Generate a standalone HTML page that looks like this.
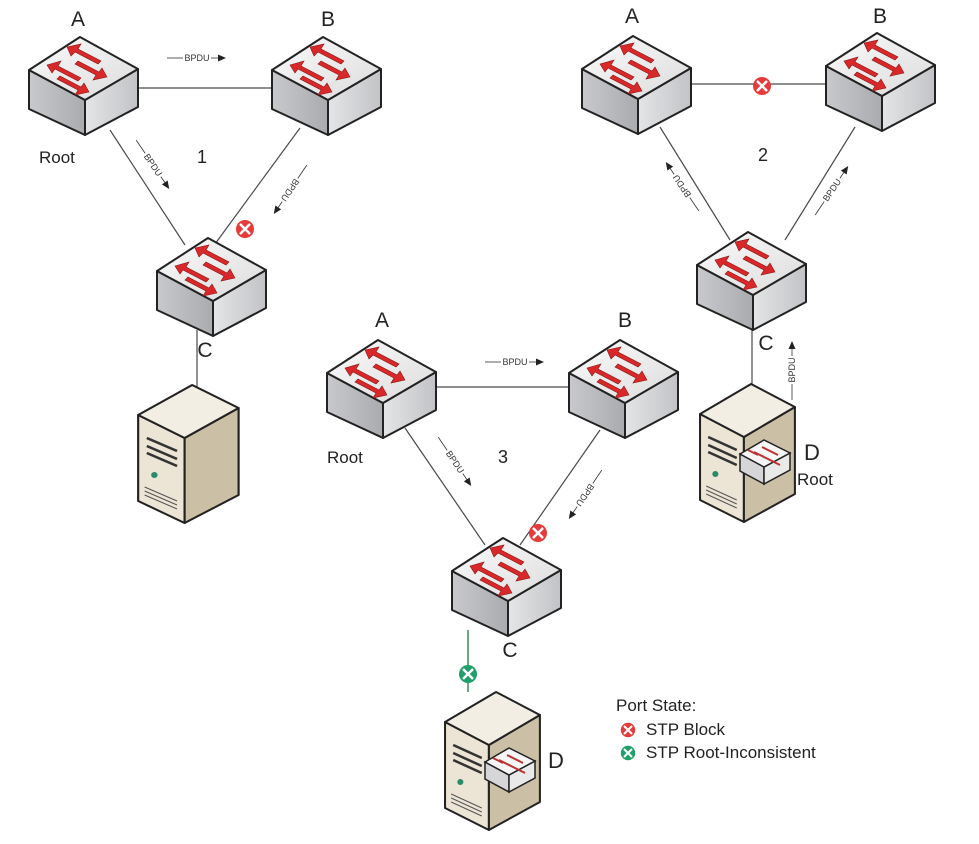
<!DOCTYPE html>
<html><head><meta charset="utf-8"><style>
html,body{margin:0;padding:0;background:#fff;}
svg{display:block;font-family:"Liberation Sans",Arial,sans-serif;}
</style></head><body>
<svg width="979" height="844" viewBox="0 0 979 844" xmlns="http://www.w3.org/2000/svg">
<defs>
<linearGradient id="lf" x1="0" y1="0" x2="1" y2="0"><stop offset="0" stop-color="#c8c9cc"/><stop offset="1" stop-color="#a9abaf"/></linearGradient>
<linearGradient id="rf" x1="0" y1="0" x2="1" y2="0"><stop offset="0" stop-color="#e4e5e7"/><stop offset="1" stop-color="#c2c3c6"/></linearGradient>
<linearGradient id="tf" x1="0" y1="0" x2="1" y2="1"><stop offset="0" stop-color="#fafafa"/><stop offset="1" stop-color="#dcdcdc"/></linearGradient>
<g id="sw">
<polygon points="0,33 56,63 56,98 0,72" fill="url(#lf)" stroke="#222" stroke-width="2" stroke-linejoin="round"/>
<polygon points="56,63 109,32 109,70 56,98" fill="url(#rf)" stroke="#222" stroke-width="2" stroke-linejoin="round"/>
<polygon points="0,33 51,0 109,32 56,63" fill="url(#tf)" stroke="#222" stroke-width="2" stroke-linejoin="round"/>
<g fill="#d8282a" stroke="#8a1414" stroke-width="0.6">
<polygon points="38,10 52,7 49,12 72,24 69,27 46,15 42,19"/>
<polygon points="18,28 32,24 29,29 52,41 49,44 26,32 23,36"/>
<polygon points="78,40 64,43 67,38 46,27 49,24 70,35 73,31"/>
<polygon points="60,55 46,58 49,53 28,42 31,39 52,50 55,46"/>
</g>
</g>
<g id="srv">
<polygon points="2,32 45,55 45,140 2,118" fill="#ece5d6" stroke="#222" stroke-width="2" stroke-linejoin="round"/>
<polygon points="45,55 95,25 95,112 45,140" fill="#cbbfa6" stroke="#222" stroke-width="2" stroke-linejoin="round"/>
<polygon points="2,32 52,2 95,25 45,55" fill="#f3eee4" stroke="#222" stroke-width="2" stroke-linejoin="round"/>
<path d="M10,55 L38,68 M10,63 L38,76 M10,70 L38,83" stroke="#333" stroke-width="2.5"/>
<circle cx="17" cy="92" r="3" fill="#2a8a6a"/>
<path d="M8,104 L38,118 M8,108 L38,122 M8,112 L38,126" stroke="#555" stroke-width="1"/>
</g>
<g id="minisw">
<polygon points="0,14 24,27 24,44 0,31" fill="#d6d6d8" stroke="#222" stroke-width="1.5"/>
<polygon points="24,27 50,13 50,30 24,44" fill="#e9e9ea" stroke="#222" stroke-width="1.5"/>
<polygon points="0,14 24,0 50,13 24,27" fill="#f6f6f6" stroke="#222" stroke-width="1.5"/>
<path d="M14,12 L30,20 M22,7 L38,15 M18,15 L8,10 M28,19 L40,25" stroke="#b33" stroke-width="2"/>
</g>
<g id="blk">
<circle r="9" fill="#e53b3b"/>
<path d="M-5,-5 L5,5 M5,-5 L-5,5" stroke="#fff" stroke-width="2.5"/>
</g>
<g id="grn">
<circle r="9" fill="#1ea06a"/>
<path d="M-5,-5 L5,5 M5,-5 L-5,5" stroke="#fff" stroke-width="2.5"/>
</g>
<g id="bp">
<line x1="-30" y1="0" x2="-14" y2="0" stroke="#333" stroke-width="0.8"/>
<text x="0" y="3" font-size="9" text-anchor="middle" fill="#333">BPDU</text>
<line x1="14" y1="0" x2="21" y2="0" stroke="#333" stroke-width="0.8"/>
<polygon points="21,-3.5 29,0 21,3.5" fill="#222"/>
</g>
</defs>

<g stroke="#4a4a4a" stroke-width="1.2" fill="none">
<line x1="138" y1="88" x2="272" y2="88"/>
<line x1="110" y1="130" x2="185" y2="245"/>
<line x1="300" y1="128" x2="215" y2="244"/>
<line x1="197" y1="330" x2="197" y2="388"/>
<line x1="692" y1="84" x2="826" y2="84"/>
<line x1="660" y1="127" x2="730" y2="240"/>
<line x1="855" y1="127" x2="785" y2="240"/>
<line x1="752" y1="325" x2="752" y2="386"/>
<line x1="436" y1="387" x2="569" y2="387"/>
<line x1="405" y1="428" x2="485" y2="545"/>
<line x1="600" y1="430" x2="520" y2="545"/>
</g>
<line x1="468" y1="630" x2="468" y2="692" stroke="#3a8a5a" stroke-width="1.5"/>

<use href="#sw" x="29" y="37"/>
<use href="#sw" x="272" y="37"/>
<use href="#sw" x="157" y="238"/>
<use href="#sw" x="582" y="36"/>
<use href="#sw" x="826" y="33"/>
<use href="#sw" x="697" y="232"/>
<use href="#sw" x="327" y="340"/>
<use href="#sw" x="569" y="340"/>
<use href="#sw" x="452" y="538"/>

<use href="#srv" transform="translate(136,383) scale(1.08,1.0)"/>
<use href="#srv" transform="translate(698,382) scale(1.02,1.0)"/>
<use href="#minisw" x="740" y="440"/>
<use href="#srv" transform="translate(443,690) scale(1.02,1.0)"/>
<use href="#minisw" x="485" y="748"/>

<use href="#blk" x="245" y="229"/>
<use href="#blk" x="762" y="86"/>
<use href="#blk" x="538" y="533"/>
<use href="#grn" x="468" y="674"/>

<use href="#bp" transform="translate(197,58)"/>
<use href="#bp" transform="translate(153,165) rotate(56)"/>
<use href="#bp" transform="translate(290,190) rotate(124)"/>
<use href="#bp" transform="translate(682,186) rotate(236)"/>
<use href="#bp" transform="translate(832,190) rotate(-56)"/>
<use href="#bp" transform="translate(792,370) rotate(-90)"/>
<use href="#bp" transform="translate(515,362)"/>
<use href="#bp" transform="translate(455,462) rotate(56)"/>
<use href="#bp" transform="translate(585,495) rotate(124)"/>

<g font-size="21" fill="#222">
<text x="78" y="26" text-anchor="middle">A</text>
<text x="328" y="26" text-anchor="middle">B</text>
<text x="632" y="23" text-anchor="middle">A</text>
<text x="880" y="23" text-anchor="middle">B</text>
<text x="382" y="327" text-anchor="middle">A</text>
<text x="625" y="327" text-anchor="middle">B</text>
<text x="205" y="357" text-anchor="middle">C</text>
<text x="766" y="350" text-anchor="middle">C</text>
<text x="510" y="657" text-anchor="middle">C</text>
<text x="812" y="460" text-anchor="middle" font-size="22">D</text>
<text x="556" y="768" text-anchor="middle" font-size="22">D</text>
</g>
<g font-size="17" fill="#222">
<text x="39" y="163">Root</text>
<text x="327" y="463">Root</text>
<text x="797" y="485">Root</text>
<text x="197" y="163" font-size="18">1</text>
<text x="758" y="161" font-size="18">2</text>
<text x="498" y="463" font-size="18">3</text>
<text x="616" y="711">Port State:</text>
<text x="646" y="735">STP Block</text>
<text x="646" y="758">STP Root-Inconsistent</text>
</g>
<use href="#blk" transform="translate(628,730) scale(0.8)"/>
<use href="#grn" transform="translate(628,753) scale(0.8)"/>
</svg>
</body></html>
